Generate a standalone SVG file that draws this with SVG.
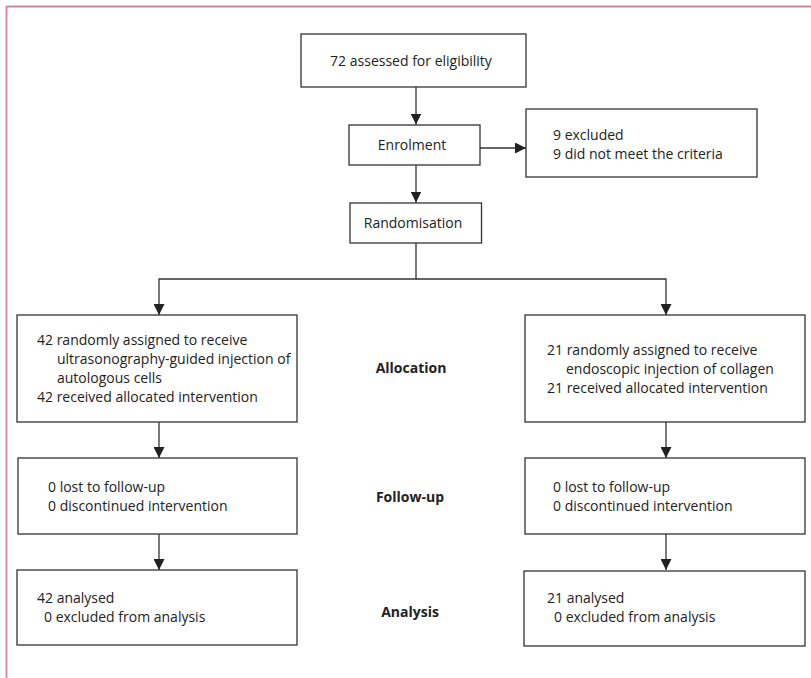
<svg xmlns="http://www.w3.org/2000/svg" width="811" height="678" viewBox="0 0 811 678">
<style>
.box{fill:#fff;stroke:#333;stroke-width:1.3}
.t{font-family:"Open Sans","Liberation Sans",sans-serif;font-size:14px;fill:#222}
.c{text-anchor:middle}
.b{font-weight:bold}
.ln{fill:none;stroke:#333;stroke-width:1.3}
</style>
<defs>
<marker id="ah" viewBox="0 0 11 11" refX="11" refY="5.5" markerWidth="11" markerHeight="11" markerUnits="userSpaceOnUse" orient="auto">
<path d="M0,0 L11,5.5 L0,11 Z" fill="#222"/>
</marker>
</defs>
<g id="frame">
<line x1="6.5" y1="6.5" x2="811" y2="6.5" stroke="#d9809a" stroke-width="1.8"/>
<line x1="6.5" y1="6" x2="6.5" y2="678" stroke="#d9809a" stroke-width="1.8"/>
</g>
<g id="connectors">
<line class="ln" x1="416" y1="87" x2="416" y2="124.5" marker-end="url(#ah)"/>
<line class="ln" x1="480" y1="148" x2="526" y2="148" marker-end="url(#ah)"/>
<line class="ln" x1="416" y1="165" x2="416" y2="202.5" marker-end="url(#ah)"/>
<polyline class="ln" points="416,243 416,279 159,279 159,315" marker-end="url(#ah)"/>
<polyline class="ln" points="416,279 666,279 666,315" marker-end="url(#ah)"/>
<line class="ln" x1="159" y1="422" x2="159" y2="458" marker-end="url(#ah)"/>
<line class="ln" x1="666" y1="422" x2="666" y2="458" marker-end="url(#ah)"/>
<line class="ln" x1="159" y1="534" x2="159" y2="570" marker-end="url(#ah)"/>
<line class="ln" x1="666" y1="534" x2="666" y2="570" marker-end="url(#ah)"/>
</g>
<g id="assessed">
<rect class="box" x="301" y="34" width="225" height="53"/>
<text class="t c" x="411" y="66">72 assessed for eligibility</text>
</g>
<g id="enrolment">
<rect class="box" x="349" y="125" width="131" height="40"/>
<text class="t c" x="412" y="150">Enrolment</text>
</g>
<g id="excluded">
<rect class="box" x="526" y="109" width="231" height="68"/>
<text class="t" x="553" y="140">9 excluded</text>
<text class="t" x="553" y="159">9 did not meet the criteria</text>
</g>
<g id="randomisation">
<rect class="box" x="350" y="203" width="131.5" height="40"/>
<text class="t c" x="413" y="228">Randomisation</text>
</g>
<g id="alloc-left">
<rect class="box" x="17" y="315" width="280" height="107"/>
<text class="t" x="37" y="345">42 randomly assigned to receive</text>
<text class="t" x="57" y="364">ultrasonography-guided injection of</text>
<text class="t" x="57" y="383">autologous cells</text>
<text class="t" x="37" y="402">42 received allocated intervention</text>
</g>
<g id="alloc-label">
<text class="t c b" x="411" y="373">Allocation</text>
</g>
<g id="alloc-right">
<rect class="box" x="525" y="315" width="280" height="107"/>
<text class="t" x="547" y="355">21 randomly assigned to receive</text>
<text class="t" x="566" y="374">endoscopic injection of collagen</text>
<text class="t" x="547" y="393">21 received allocated intervention</text>
</g>
<g id="follow-left">
<rect class="box" x="18" y="458" width="279" height="76"/>
<text class="t" x="48" y="492">0 lost to follow-up</text>
<text class="t" x="48" y="511">0 discontinued intervention</text>
</g>
<g id="follow-label">
<text class="t c b" x="410" y="502">Follow-up</text>
</g>
<g id="follow-right">
<rect class="box" x="525" y="458" width="280" height="76"/>
<text class="t" x="553" y="492">0 lost to follow-up</text>
<text class="t" x="553" y="511">0 discontinued intervention</text>
</g>
<g id="analysis-left">
<rect class="box" x="17" y="570" width="280" height="75"/>
<text class="t" x="37" y="603">42 analysed</text>
<text class="t" x="44" y="622">0 excluded from analysis</text>
</g>
<g id="analysis-label">
<text class="t c b" x="410" y="617">Analysis</text>
</g>
<g id="analysis-right">
<rect class="box" x="524" y="571" width="281" height="75"/>
<text class="t" x="547" y="603">21 analysed</text>
<text class="t" x="554" y="622">0 excluded from analysis</text>
</g>
</svg>
